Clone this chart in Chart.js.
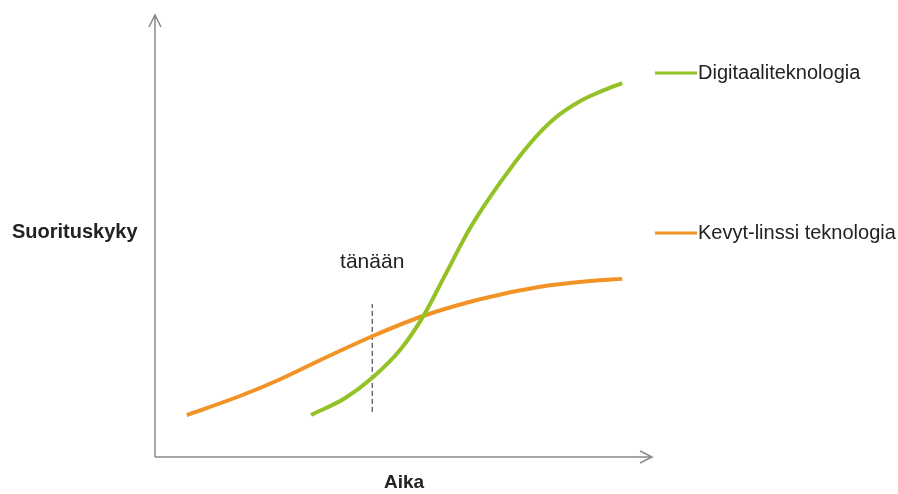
<!DOCTYPE html>
<html>
<head>
<meta charset="utf-8">
<script src="https://cdn.jsdelivr.net/npm/chart.js@4"></script>
<style>
  html, body { margin: 0; padding: 0; background: #fff; }
  #wrap { width: 898px; height: 494px; }
</style>
</head>
<body>
<div id="wrap"><canvas id="chart"></canvas></div>
<script>
// Aika (x) ja suorituskyky (y), 0..100
const digiX = [31.4, 38.2, 43.9, 49.3, 53.9, 58.4, 63.4, 69.4, 75.5, 80.5, 85.5, 89.5, 94];
const digiY = [9.5, 13.3, 18.1, 24.2, 31.7, 41.2, 51.8, 62.0, 71.0, 76.7, 80.5, 82.6, 84.6];
const linssiX = [6.4, 17.1, 25.2, 33.2, 44.3, 53.9, 65.4, 77.5, 87.5, 94];
const linssiY = [9.5, 13.8, 17.6, 21.9, 27.6, 31.9, 35.7, 38.5, 39.8, 40.3];
const todayX = [43.7, 43.7];
const todayY = [10.2, 34.6];

const seriesLabels = ['Digitaaliteknologia', 'Kevyt-linssi teknologia'];
const labelY = [86.9, 50.7];
const xTitle = 'Aika';
const yTitle = 'Suorituskyky';
const todayLabel = 'tänään';

const green = 'rgb(146, 194, 38)';
const orange = 'rgb(241, 147, 37)';

const pts = (xs, ys) => xs.map((x, i) => ({ x: x, y: ys[i] }));

// nuolet, otsikot ja sarjojen nimet
const decorations = {
    id: 'decorations',
    afterDraw(chart) {
        const ctx = chart.ctx;
        const a = chart.chartArea;
        const xs = chart.scales.x, ys = chart.scales.y;
        ctx.save();
        ctx.strokeStyle = '#8a8a8a';
        ctx.lineWidth = 1.5;
        ctx.beginPath();
        ctx.moveTo(a.left, a.bottom);
        ctx.lineTo(a.left, a.top);
        ctx.moveTo(a.left - 6, a.top + 12);
        ctx.lineTo(a.left, a.top);
        ctx.lineTo(a.left + 6, a.top + 12);
        ctx.moveTo(a.left, a.bottom);
        ctx.lineTo(a.right, a.bottom);
        ctx.moveTo(a.right - 12, a.bottom - 6);
        ctx.lineTo(a.right, a.bottom);
        ctx.lineTo(a.right - 12, a.bottom + 6);
        ctx.stroke();

        ctx.fillStyle = '#222';
        ctx.textBaseline = 'middle';
        ctx.font = 'bold 20px "Liberation Sans", Arial, sans-serif';
        ctx.textAlign = 'left';
        ctx.fillText(yTitle, 12, 232);
        ctx.font = 'bold 19px "Liberation Sans", Arial, sans-serif';
        ctx.textAlign = 'center';
        ctx.fillText(xTitle, 404, 483);

        ctx.font = '21px "Liberation Sans", Arial, sans-serif';
        ctx.fillText(todayLabel, xs.getPixelForValue(43.7), ys.getPixelForValue(44.1));

        ctx.font = '20px "Liberation Sans", Arial, sans-serif';
        ctx.textAlign = 'left';
        [0, 1].forEach(i => {
            const ds = chart.data.datasets[i];
            const y = ys.getPixelForValue(labelY[i]);
            ctx.strokeStyle = ds.borderColor;
            ctx.lineWidth = 3;
            ctx.beginPath();
            ctx.moveTo(a.right + 3, y);
            ctx.lineTo(a.right + 45, y);
            ctx.stroke();
            ctx.fillText(ds.label, a.right + 46, y + 1);
        });
        ctx.restore();
    }
};

new Chart(document.getElementById('chart'), {
    type: 'line',
    data: {
        datasets: [{
            label: seriesLabels[0],
            data: pts(digiX, digiY),
            borderColor: green,
            borderWidth: 4,
            pointRadius: 0,
            cubicInterpolationMode: 'monotone'
        }, {
            label: seriesLabels[1],
            data: pts(linssiX, linssiY),
            borderColor: orange,
            borderWidth: 4,
            pointRadius: 0,
            cubicInterpolationMode: 'monotone'
        }, {
            label: todayLabel,
            data: pts(todayX, todayY),
            borderColor: '#222',
            borderWidth: 1,
            borderDash: [5, 3],
            pointRadius: 0
        }]
    },
    options: {
        responsive: true,
        maintainAspectRatio: false,
        animation: false,
        layout: { padding: { left: 155, top: 15, right: 246, bottom: 37 } },
        plugins: {
            legend: { display: false },
            tooltip: { enabled: false }
        },
        scales: {
            x: { type: 'linear', min: 0, max: 100, display: false },
            y: { min: 0, max: 100, display: false }
        }
    },
    plugins: [decorations]
});
</script>
</body>
</html>
